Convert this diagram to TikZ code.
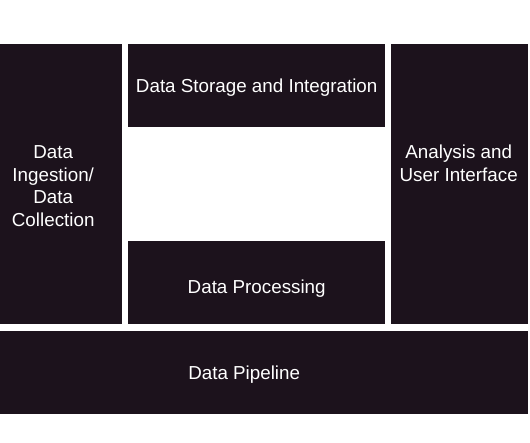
\documentclass[tikz,border=0pt]{standalone}
\usepackage{fontspec}
\setmainfont{Liberation Sans}
\definecolor{boxdark}{RGB}{28,18,28}

\begin{document}
\begin{tikzpicture}[x=1pt,y=-1pt,
    caption/.style={text=white,align=center,font=\fontsize{18.8}{22.5}\selectfont},
    panel/.style={fill=boxdark,inner sep=0pt,anchor=north west}]
    \useasboundingbox (0,0) rectangle (530,442);
    % left and right columns
    \node[panel,minimum width=122pt,minimum height=280pt,
        label={[name=ingesttext,caption,xshift=-8pt,yshift=-2pt]center:{Data\\Ingestion/\\Data\\Collection}}] (ingest) at (0,44) {};
    \node[panel,minimum width=137pt,minimum height=280pt,
        label={[name=analysistext,caption,xshift=-1pt,yshift=21pt]center:{Analysis and\\User Interface}}] (analysis) at (391,44) {};
    % middle blocks
    \node[panel,minimum width=257pt,minimum height=83pt,
        label={[name=storagetext,caption,yshift=-2pt]center:Data Storage and Integration}] (storage) at (128,44) {};
    \node[panel,minimum width=257pt,minimum height=83pt,
        label={[name=processtext,caption,yshift=-6pt]center:Data Processing}] (process) at (128,241) {};
    % bottom bar
    \node[panel,minimum width=528pt,minimum height=83pt,
        label={[name=pipelinetext,caption,xshift=-20pt,yshift=-1.5pt]center:Data Pipeline}] (pipeline) at (0,331) {};
\end{tikzpicture}
\end{document}
